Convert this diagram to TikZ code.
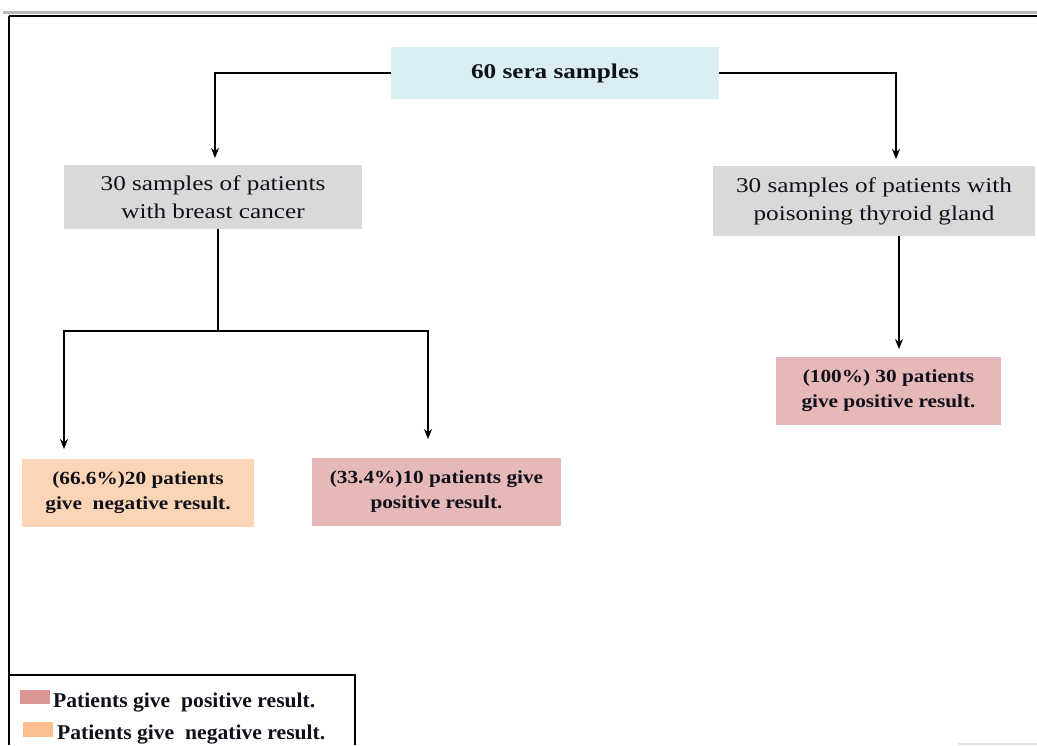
\documentclass[tikz,border=0pt]{standalone}
\usepackage{fontspec}
\setmainfont{Liberation Serif}
\newfontfamily\boxfont[FakeStretch=1.2]{Liberation Serif}
\newfontfamily\resfont[FakeStretch=1.15]{Liberation Serif}
\newfontfamily\legfont[FakeStretch=1.03]{Liberation Serif}
\usetikzlibrary{arrows.meta}
\definecolor{topblue}{HTML}{DAEEF3}
\definecolor{boxgray}{HTML}{D9D9D9}
\definecolor{negfill}{HTML}{FBD5B5}
\definecolor{posfill}{HTML}{E6B9B8}
\definecolor{legpos}{HTML}{D99694}
\definecolor{legneg}{HTML}{FAC090}
\definecolor{txt}{HTML}{10101A}
\tikzset{
  box/.style={draw=none, inner sep=0pt, align=center, text=txt},
  topbox/.style={box, fill=topblue, font=\boxfont\bfseries\fontsize{21}{26}\selectfont},
  graybox/.style={box, fill=boxgray, font=\boxfont\fontsize{21}{28}\selectfont},
  resbox/.style={box, font=\resfont\bfseries\fontsize{18.5}{25}\selectfont},
  arr/.style={line width=1.3pt, -{Stealth[length=10pt,width=8pt]}},
  conn/.style={line width=1.3pt},
  legtext/.style={anchor=base west, inner sep=0pt, text=txt, font=\legfont\bfseries\fontsize{21}{24}\selectfont},
}
\begin{document}
\begin{tikzpicture}[x=1pt,y=-1pt]
\useasboundingbox (0,0) rectangle (1037,745);
% page frame
\draw[gray!55, line width=3pt] (3,12) -- (1037,12);
\draw[black, line width=2.5pt] (9,16) -- (1037,16);
\draw[black, line width=2pt] (9,16) -- (9,745);
\draw[gray!25, line width=2pt] (958,744) -- (1037,744);
% boxes
\node[topbox, minimum width=328pt, minimum height=52pt] (top) at (555,73) {60 sera samples};
\node[graybox, minimum width=298pt, minimum height=64pt] (left) at (213,197) {30 samples of patients\\with breast cancer};
\node[graybox, minimum width=322pt, minimum height=70pt] (right) at (874,201) {30 samples of patients with\\poisoning thyroid gland};
\node[resbox, fill=negfill, minimum width=232pt, minimum height=68pt] (neg) at (138,493) {(66.6\%)20 patients\\give\ \ negative result.};
\node[resbox, fill=posfill, minimum width=249pt, minimum height=68pt] (posA) at (436.5,492) {(33.4\%)10 patients give\\positive result.};
\node[resbox, fill=posfill, minimum width=225pt, minimum height=68pt] (posB) at (888.5,391) {(100\%) 30 patients\\give positive result.};
% connector points
\coordinate (tL) at (215,158);
\coordinate (tR) at (896,159);
\coordinate (split) at (218,331);
\coordinate (tNeg) at (64,449);
\coordinate (tPosA) at (428,439);
\coordinate (rDown) at (899,236);
\coordinate (tPosB) at (899,349);
% connectors
\draw[arr] (top.west) -| (tL);
\draw[arr] (top.east) -| (tR);
\draw[conn] (left.south -| split) -- (split);
\draw[arr] (split) -| (tNeg);
\draw[arr] (split) -| (tPosA);
\draw[arr] (rDown) -- (tPosB);
% legend
\draw[black, line width=2pt] (9,675) -- (355,675) -- (355,745);
\node[fill=legpos, minimum width=30pt, minimum height=14pt, inner sep=0pt] (swPos) at (35,697) {};
\node[fill=legneg, minimum width=30pt, minimum height=15pt, inner sep=0pt] (swNeg) at (38,729.5) {};
\node[legtext] (lgPos) at (53,707) {Patients give\ \ positive result.};
\node[legtext] (lgNeg) at (57,739) {Patients give\ \ negative result.};
\end{tikzpicture}
\end{document}
